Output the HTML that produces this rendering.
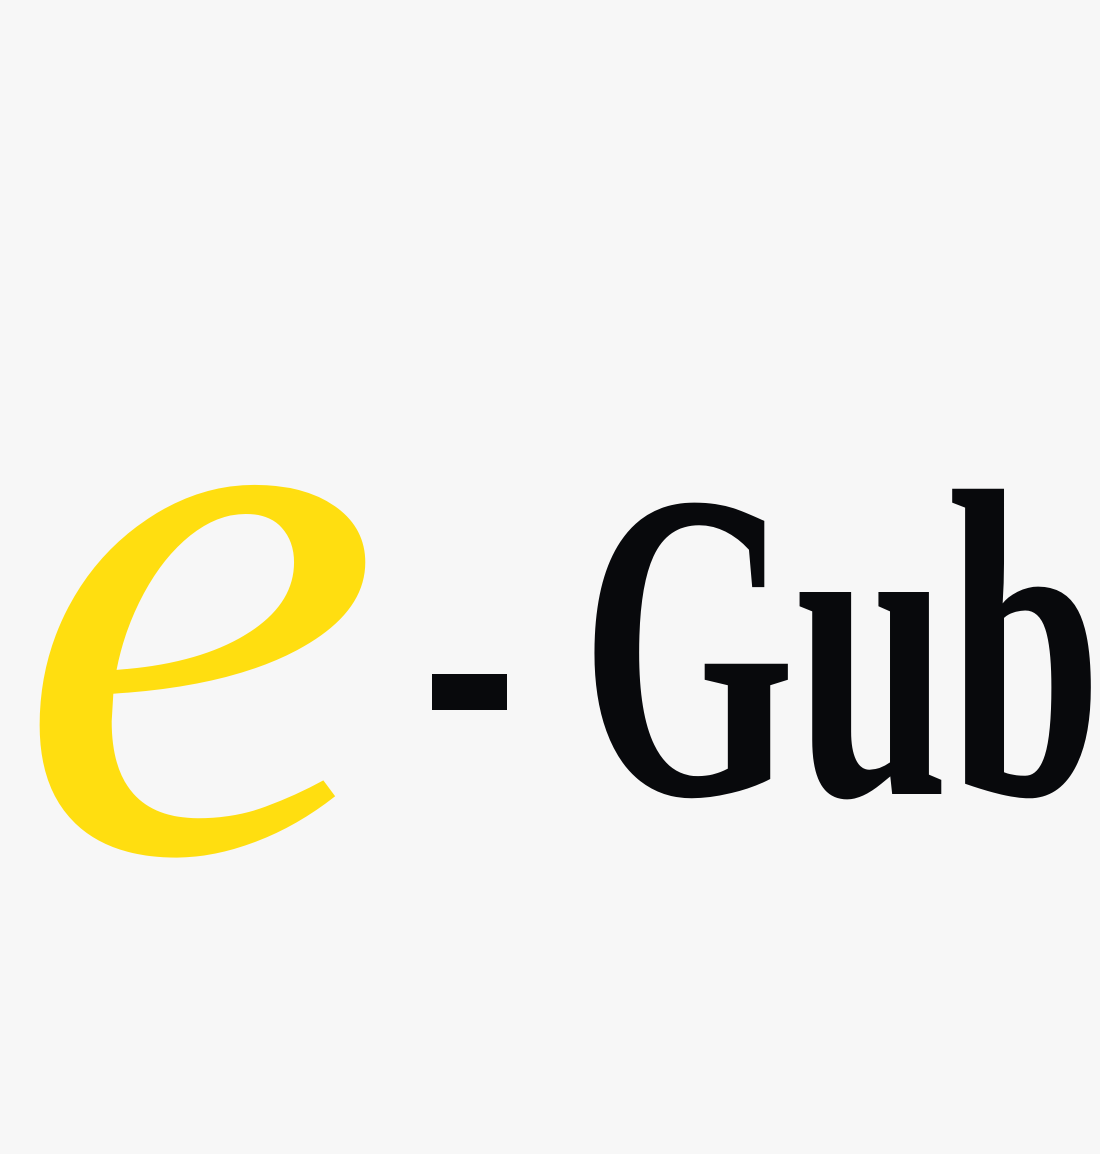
<!DOCTYPE html>
<html>
<head>
<meta charset="utf-8">
<style>
  html,body{margin:0;padding:0;background:#f7f7f7;}
  body{width:1100px;height:1154px;overflow:hidden;}
  svg{display:block;}
</style>
</head>
<body>
<svg width="1100" height="1154" viewBox="0 0 1100 1154" xmlns="http://www.w3.org/2000/svg">
  <rect x="0" y="0" width="1100" height="1154" fill="#f7f7f7"/>
  <text x="14" y="850" font-family="Liberation Serif, serif" font-style="italic" font-size="775" fill="#ffde10" textLength="370" lengthAdjust="spacingAndGlyphs">e</text>
  <rect x="432" y="674" width="75" height="36" fill="#08090c"/>
  <text x="581" y="794" font-family="Liberation Serif, serif" font-weight="bold" font-size="440" fill="#08090c" textLength="521" lengthAdjust="spacingAndGlyphs">Gub</text>
</svg>
</body>
</html>
